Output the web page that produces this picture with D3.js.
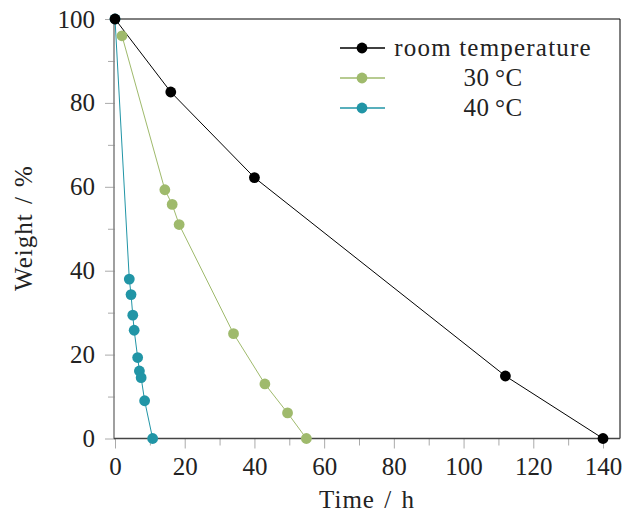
<!DOCTYPE html>
<html>
<head>
<meta charset="utf-8">
<script src="https://cdn.jsdelivr.net/npm/d3@7"></script>
<style>
  body { margin: 0; background: #fff; }
</style>
</head>
<body>
<svg id="chart" width="622" height="515"></svg>
<script>
// ---- data ----
const roomTime   = [0, 16, 40, 112, 140];
const roomWeight = [100, 82.6, 62.2, 14.9, 0];

const t30Time    = [2.0, 14.3, 16.4, 18.4, 34.0, 43.0, 49.5, 54.9];
const t30Weight  = [96.0, 59.3, 55.8, 51.0, 25.0, 13.0, 6.1, 0];

const t40Time    = [0, 4.1, 4.6, 5.1, 5.5, 6.5, 7.0, 7.5, 8.5, 10.8];
const t40Weight  = [100, 38.0, 34.3, 29.4, 25.8, 19.3, 16.1, 14.5, 9.0, 0];

const seriesNames = ["room temperature", "30\u2009\u00B0C", "40\u2009\u00B0C"];
const seriesColors = ["#000000", "#9fba6c", "#2195a6"];

const xMajorTicks = [0, 20, 40, 60, 80, 100, 120, 140];
const xMinorTicks = [10, 30, 50, 70, 90, 110, 130];
const yMajorTicks = [0, 20, 40, 60, 80, 100];
const yMinorTicks = [10, 30, 50, 70, 90];

const xLabel = "Time / h";
const yLabel = "Weight / %";

// ---- layout ----
const FONT = "'Liberation Serif', 'Times New Roman', Times, serif";
const svg = d3.select("#chart");
const plotLeft = 114, plotRight = 620, plotTop = 19, plotBottom = 438.5;
const x = d3.scaleLinear().domain([0, 140]).range([115, 603]);
const y = d3.scaleLinear().domain([0, 100]).range([plotBottom, plotTop]);

const fontSize = 25;

// frame top/right
svg.append("line").attr("x1", plotLeft).attr("x2", plotRight).attr("y1", plotTop).attr("y2", plotTop)
  .attr("stroke", "#000").attr("stroke-width", 1);
svg.append("line").attr("x1", plotRight).attr("x2", plotRight).attr("y1", plotTop).attr("y2", plotBottom)
  .attr("stroke", "#000").attr("stroke-width", 1);

// x axis
const xAxisG = svg.append("g").attr("transform", `translate(0,${plotBottom})`);
xAxisG.call(d3.axisBottom(x).tickValues(xMinorTicks).tickSize(7).tickFormat(""));
xAxisG.append("g").call(d3.axisBottom(x).tickValues(xMajorTicks).tickSize(10).tickPadding(9).tickFormat(d3.format("d")));
xAxisG.selectAll(".domain").remove();

// y axis
const yAxisG = svg.append("g").attr("transform", `translate(${x(0)},0)`);
yAxisG.call(d3.axisLeft(y).tickValues(yMinorTicks).tickSize(7).tickFormat(""));
yAxisG.append("g").call(d3.axisLeft(y).tickValues(yMajorTicks).tickSize(10).tickPadding(10).tickFormat(d3.format("d")));
yAxisG.selectAll(".domain").remove();

[xAxisG, yAxisG].forEach(g => {
  g.attr("font-family", null).attr("font-size", null);
  g.selectAll("g").attr("font-family", null).attr("font-size", null);
  g.selectAll(".tick line").attr("stroke", "#aaa").attr("stroke-width", 1);
  g.selectAll(".tick text").style("font-family", FONT).style("font-size", fontSize + "px").attr("fill", "#222");
});

// axis lines
svg.append("line").attr("x1", plotLeft).attr("x2", plotLeft).attr("y1", plotTop).attr("y2", plotBottom + 0.5)
  .attr("stroke", "#888").attr("stroke-width", 1.6);
svg.append("line").attr("x1", plotLeft).attr("x2", plotRight).attr("y1", plotBottom).attr("y2", plotBottom)
  .attr("stroke", "#444").attr("stroke-width", 1.4);

// series
const series = [
  { name: seriesNames[0], color: seriesColors[0], xs: roomTime, ys: roomWeight },
  { name: seriesNames[1], color: seriesColors[1], xs: t30Time, ys: t30Weight },
  { name: seriesNames[2], color: seriesColors[2], xs: t40Time, ys: t40Weight }
];

const line = d3.line().x(d => x(d[0])).y(d => y(d[1]));
const drawOrder = [2, 1, 0];
drawOrder.forEach(i => {
  const s = series[i];
  const pts = s.xs.map((v, k) => [v, s.ys[k]]);
  svg.append("path").datum(pts).attr("d", line).attr("fill", "none")
    .attr("stroke", s.color).attr("stroke-width", 1);
});
drawOrder.forEach(i => {
  const s = series[i];
  const pts = s.xs.map((v, k) => [v, s.ys[k]]);
  svg.append("g").selectAll("circle").data(pts).join("circle")
    .attr("cx", d => x(d[0])).attr("cy", d => y(d[1])).attr("r", 5.4)
    .attr("fill", s.color);
});

// legend
const legend = svg.append("g");
const legY0 = 48, legDy = 30;
series.forEach((s, i) => {
  const yy = legY0 + i * legDy;
  legend.append("line").attr("x1", 340).attr("x2", 385).attr("y1", yy).attr("y2", yy)
    .attr("stroke", s.color).attr("stroke-width", 1.4);
  legend.append("circle").attr("cx", 362).attr("cy", yy).attr("r", 5.4).attr("fill", s.color);
  legend.append("text").attr("x", 493).attr("y", yy).attr("dy", "0.33em")
    .attr("text-anchor", "middle")
    .style("font-family", FONT).style("font-size", fontSize + "px").attr("fill", "#222")
    .style("letter-spacing", i === 0 ? "1.2px" : "0.5px")
    .text(s.name);
});

// axis labels
svg.append("text").attr("x", 367).attr("y", 508).attr("text-anchor", "middle")
  .style("font-family", FONT).style("font-size", fontSize + "px").attr("fill", "#222")
  .style("letter-spacing", "1px").style("word-spacing", "2px").text(xLabel);
svg.append("text").attr("transform", `translate(32,228) rotate(-90)`).attr("text-anchor", "middle")
  .style("font-family", FONT).style("font-size", fontSize + "px").attr("fill", "#222")
  .style("letter-spacing", "1px").style("word-spacing", "2px").text(yLabel);
</script>
</body>
</html>
